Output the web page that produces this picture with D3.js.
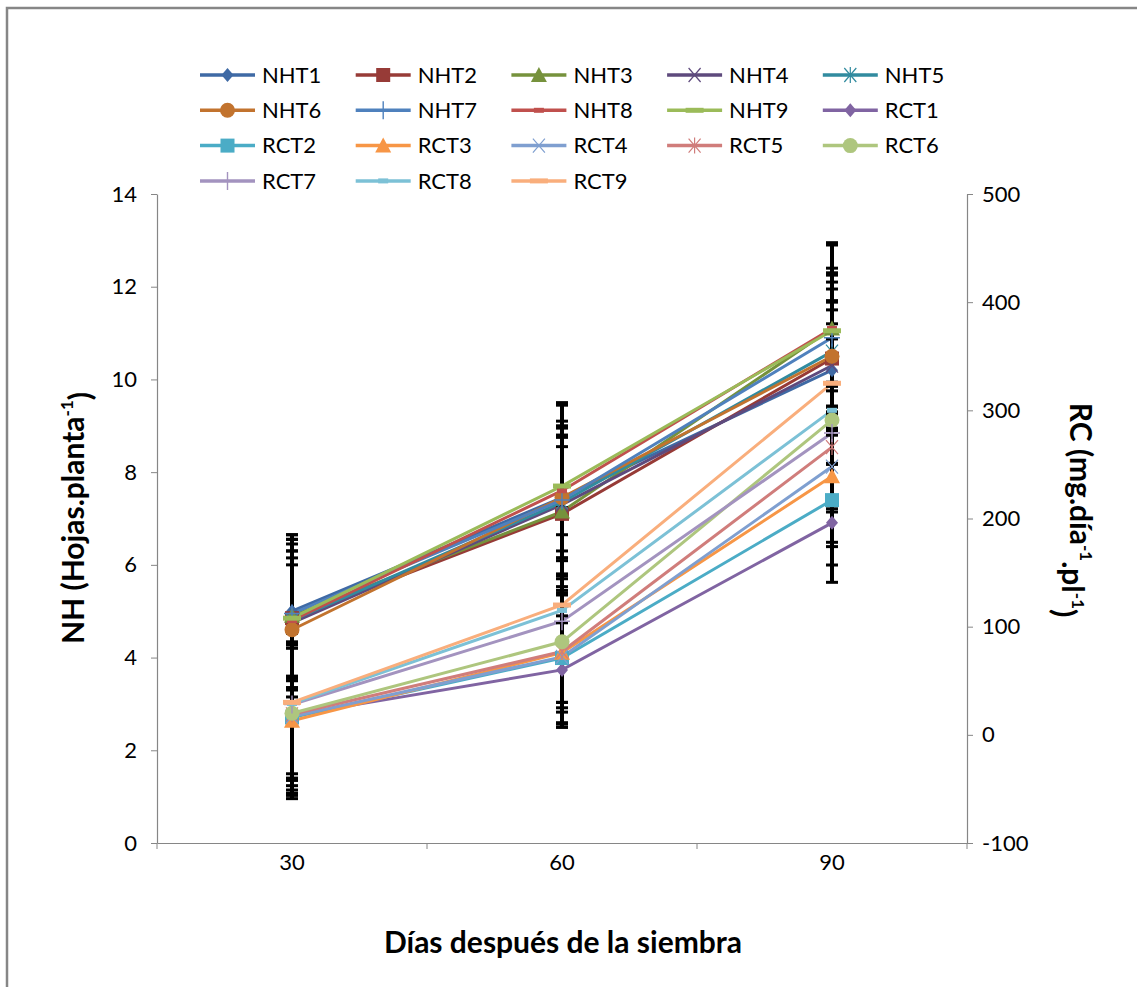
<!DOCTYPE html>
<html><head><meta charset="utf-8">
<script src="https://cdn.jsdelivr.net/npm/d3@7"></script>
<style>body{margin:0;background:#fff}svg{display:block}text{font-family:Lato,"Open Sans",sans-serif}</style>
</head><body>
<svg id="c" width="1137" height="987"></svg>
<script>
const days = ["30","60","90"];
const nhTicks = [0,2,4,6,8,10,12,14];
const rcTicks = [-100,0,100,200,300,400,500];

const NHT1 = [5.0, 7.45, 10.2],  NHT1e = [1.65, 1.3, 1.3];
const NHT2 = [4.85, 7.1, 10.45], NHT2e = [1.7, 2.35, 1.5];
const NHT3 = [4.9, 7.15, 11.1],  NHT3e = [1.4, 1.8, 1.85];
const NHT4 = [4.75, 7.3, 10.3],  NHT4e = [1.9, 1.5, 1.4];
const NHT5 = [4.8, 7.35, 10.6],  NHT5e = [1.5, 1.2, 1.7];
const NHT6 = [4.6, 7.45, 10.5],  NHT6e = [1.85, 2.0, 1.6];
const NHT7 = [4.95, 7.4, 10.9],  NHT7e = [1.6, 1.6, 1.5];
const NHT8 = [4.8, 7.6, 11.1],   NHT8e = [1.2, 1.9, 1.8];
const NHT9 = [4.85, 7.7, 11.05], NHT9e = [1.3, 1.4, 1.2];

const RCT1 = [18, 60, 196],  RCT1e = [65, 50, 55];
const RCT2 = [16, 71, 217],  RCT2e = [70, 60, 60];
const RCT3 = [13, 76, 239],  RCT3e = [72, 55, 65];
const RCT4 = [17, 72, 248],  RCT4e = [68, 65, 70];
const RCT5 = [19, 77, 266],  RCT5e = [75, 70, 60];
const RCT6 = [20, 86, 291],  RCT6e = [60, 75, 75];
const RCT7 = [28, 105, 279], RCT7e = [70, 80, 70];
const RCT8 = [29, 115, 300], RCT8e = [65, 85, 80];
const RCT9 = [30, 120, 325], RCT9e = [72, 90, 75];

const seriesNames = ["NHT1","NHT2","NHT3","NHT4","NHT5","NHT6","NHT7","NHT8","NHT9",
                     "RCT1","RCT2","RCT3","RCT4","RCT5","RCT6","RCT7","RCT8","RCT9"];
const seriesValues = [NHT1,NHT2,NHT3,NHT4,NHT5,NHT6,NHT7,NHT8,NHT9,RCT1,RCT2,RCT3,RCT4,RCT5,RCT6,RCT7,RCT8,RCT9];
const seriesErrors = [NHT1e,NHT2e,NHT3e,NHT4e,NHT5e,NHT6e,NHT7e,NHT8e,NHT9e,RCT1e,RCT2e,RCT3e,RCT4e,RCT5e,RCT6e,RCT7e,RCT8e,RCT9e];
const colors = ["#3F6AA5","#973B37","#76923C","#5E4A7D","#318B9F","#C2732E",
                "#4F81BD","#C0504D","#9BBB59","#8064A2","#4BACC6","#F79646",
                "#7F9FD0","#D07D7B","#AEC67E","#A393BF","#7CC1D6","#F9AE7C"];
const markers = ["diamond","square","triangle","x","star","circle","plus","dash","longdash"];

const svg = d3.select("#c");
const L = 157, R = 967, T = 194, B = 843;
const x = d3.scaleBand().domain(days).range([L, R]).padding(0);
const yL = d3.scaleLinear().domain([0,14]).range([B, T]);
const yR = d3.scaleLinear().domain([-100,500]).range([B, T]);
const cx = d => x(d) + x.bandwidth()/2;

// frame
svg.append("path").attr("d", `M7,987 L7,8 L1137,8`).attr("fill","none").attr("stroke","#868686").attr("stroke-width",2.5);

// axes
const gL = svg.append("g").attr("transform",`translate(${L},0)`).call(d3.axisLeft(yL).tickValues(nhTicks).tickSize(6).tickPadding(14).tickSizeOuter(0));
const gR = svg.append("g").attr("transform",`translate(${R},0)`).call(d3.axisRight(yR).tickValues(rcTicks).tickFormat(d=>String(d)).tickSize(6).tickPadding(9).tickSizeOuter(0));
const gB = svg.append("g").attr("transform",`translate(0,${B})`).call(d3.axisBottom(x).tickSize(0).tickPadding(11).tickSizeOuter(0));
// category boundary ticks
gB.selectAll("line.bt").data(days.concat(["end"])).join("line").attr("class","bt")
  .attr("x1", d => d==="end" ? R : x(d)).attr("x2", d => d==="end" ? R : x(d))
  .attr("y1",0).attr("y2",6).attr("stroke","#868686").attr("stroke-width",1);
[gL,gR,gB].forEach(g=>{
  g.selectAll(".domain").attr("stroke","#868686").attr("stroke-width",1.2);
  g.selectAll(".tick line").attr("stroke","#868686");
  g.selectAll("text").attr("font-size",22).attr("fill","#000").style("font-family","Lato,sans-serif");
});

// lines
const layer = svg.append("g");
seriesNames.forEach((n,i)=>{
  const ys = i<9 ? yL : yR;
  const line = d3.line().x((v,j)=>cx(days[j])).y(v=>ys(v));
  layer.append("path").attr("d", line(seriesValues[i])).attr("fill","none")
    .attr("stroke",colors[i]).attr("stroke-width",3);
});

// error bars
const eb = svg.append("g");
seriesNames.forEach((n,i)=>{
  const ys = i<9 ? yL : yR;
  seriesValues[i].forEach((v,j)=>{
    const e = seriesErrors[i][j], xx = cx(days[j]);
    eb.append("line").attr("x1",xx).attr("x2",xx).attr("y1",ys(v-e)).attr("y2",ys(v+e)).attr("stroke","#000").attr("stroke-width",4);
    [v-e, v+e].forEach(w=>eb.append("line").attr("x1",xx-6).attr("x2",xx+6).attr("y1",ys(w)).attr("y2",ys(w)).attr("stroke","#000").attr("stroke-width",3));
  });
});

function drawMarker(g, type, px, py, col, s){
  s = s || 1;
  switch(type){
    case "diamond": g.append("path").attr("d",`M${px},${py-7*s}L${px+6*s},${py}L${px},${py+7*s}L${px-6*s},${py}Z`).attr("fill",col); break;
    case "square": g.append("rect").attr("x",px-7*s).attr("y",py-7*s).attr("width",14*s).attr("height",14*s).attr("fill",col); break;
    case "triangle": g.append("path").attr("d",`M${px},${py-8*s}L${px+8*s},${py+7*s}L${px-8*s},${py+7*s}Z`).attr("fill",col); break;
    case "x": g.append("path").attr("d",`M${px-6*s},${py-7*s}L${px+6*s},${py+7*s}M${px+6*s},${py-7*s}L${px-6*s},${py+7*s}`).attr("stroke",col).attr("stroke-width",1.2); break;
    case "star": g.append("path").attr("d",`M${px-6*s},${py-7*s}L${px+6*s},${py+7*s}M${px+6*s},${py-7*s}L${px-6*s},${py+7*s}M${px},${py-8*s}L${px},${py+8*s}`).attr("stroke",col).attr("stroke-width",1.2); break;
    case "circle": g.append("circle").attr("cx",px).attr("cy",py).attr("r",7.5*s).attr("fill",col); break;
    case "plus": g.append("path").attr("d",`M${px-8*s},${py}L${px+8*s},${py}M${px},${py-9*s}L${px},${py+9*s}`).attr("stroke",col).attr("stroke-width",1.4); break;
    case "dash": g.append("rect").attr("x",px-5*s).attr("y",py-2.5*s).attr("width",10*s).attr("height",5*s).attr("fill",col); break;
    case "longdash": g.append("rect").attr("x",px-9*s).attr("y",py-2.5*s).attr("width",18*s).attr("height",5*s).attr("fill",col); break;
  }
}

// markers
const mk = svg.append("g");
seriesNames.forEach((n,i)=>{
  const ys = i<9 ? yL : yR;
  seriesValues[i].forEach((v,j)=> drawMarker(mk, markers[i%9], cx(days[j]), ys(v), colors[i]));
});

// legend
const lg = svg.append("g");
seriesNames.forEach((n,i)=>{
  const col = i%5, row = Math.floor(i/5);
  const lx = 200 + col*155.7, ly = 75 + row*35.3;
  lg.append("line").attr("x1",lx).attr("x2",lx+55).attr("y1",ly).attr("y2",ly).attr("stroke",colors[i]).attr("stroke-width",3.5);
  drawMarker(lg, markers[i%9], lx+27.5, ly, colors[i]);
  lg.append("text").attr("x",lx+62).attr("y",ly).attr("dy","0.35em").attr("font-size",22).text(n);
});

// axis titles
svg.append("text").attr("x",563).attr("y",942).attr("dy","0.35em").attr("text-anchor","middle")
  .attr("font-size",30).attr("font-weight","bold").text("Días después de la siembra");
const tl = svg.append("text").attr("transform","translate(73,518) rotate(-90)").attr("text-anchor","middle")
  .attr("dy","0.35em").attr("font-size",30).attr("font-weight","bold");
tl.append("tspan").text("NH (Hojas.planta");
tl.append("tspan").attr("dy","-0.6em").attr("font-size",17).text("-1");
tl.append("tspan").attr("dy","0.6em").text(")");
const tr = svg.append("text").attr("transform","translate(1080,510) rotate(90)").attr("text-anchor","middle")
  .attr("dy","0.35em").attr("font-size",30).attr("font-weight","bold");
tr.append("tspan").text("RC (mg.día");
tr.append("tspan").attr("dy","-0.6em").attr("font-size",17).text("-1");
tr.append("tspan").attr("dy","0.6em").text(".pl");
tr.append("tspan").attr("dy","-0.6em").attr("font-size",17).text("-1");
tr.append("tspan").attr("dy","0.6em").text(")");
</script>
</body></html>
